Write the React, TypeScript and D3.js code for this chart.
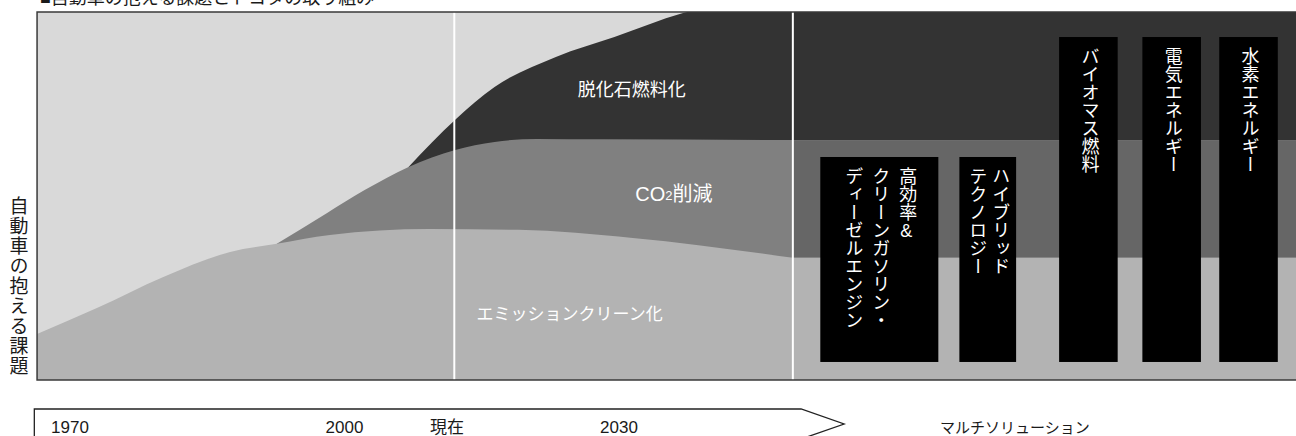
import React from "react";
import * as d3 from "d3";

// ---------- data ----------
const timelineLabels = ["1970", "2000", "現在", "2030"];
const timelineYears = [1970, 2000, 2011.2, 2030];

// boundary curves: [year, level(0-100)]
const emissionCurve: [number, number][] = [
  [1966.4, 12.5], [1973.0, 19.6], [1980.2, 28.0], [1987.5, 34.8], [1992.6, 37.0],
  [1998.4, 39.4], [2009.3, 41.0], [2019.0, 40.8], [2031.5, 38.6], [2049.0, 33.2],
];
const co2Curve: [number, number][] = [
  [1992.6, 37.0], [1998.1, 45.4], [2002.2, 51.6], [2007.0, 57.9], [2012.1, 62.5],
  [2016.4, 64.7], [2021.0, 65.5], [2027.9, 65.4], [2049.0, 65.2],
];
const fossilCurve: [number, number][] = [
  [2007.0, 57.9], [2012.1, 70.7], [2016.4, 79.6], [2023.1, 87.8], [2029.5, 93.2],
  [2037.0, 99.7], [2043.0, 103], [2049.0, 106],
];
// right panel (multi-solution) band levels
const solutionBandLevels = [100, 65.2, 33.2, 0];

const areaLabels = ["脱化石燃料化", "CO2削減", "エミッションクリーン化"];
const solutionLabels: string[][] = [
  ["高効率&", "クリーンガソリン・", "ディーゼルエンジン"],
  ["ハイブリッド", "テクノロジー"],
  ["バイオマス燃料"],
  ["電気エネルギー"],
  ["水素エネルギー"],
];

const axisTitle = "自動車の抱える課題";
const chartTitle = "■自動車の抱える課題とトヨタの取り組み";
const multiSolution = "マルチソリューション";

// ---------- layout ----------
const W = 1296;
const H = 436;
const PLOT_TOP = 12;
const PLOT_BOTTOM = 380;
const PLOT_LEFT_YEAR = 1966.4;
const NOW_YEAR = 2012;
const DIVIDER_YEAR = 2049.0;

// box layout in [startYear, endYear, topLevel]
const boxLayout: [number, number, number][] = [
  [2052.0, 2064.9, 60.6],
  [2067.2, 2073.4, 60.6],
  [2078.1, 2084.5, 93.2],
  [2087.2, 2093.6, 93.2],
  [2095.6, 2102.0, 93.2],
];
const BOX_BOTTOM_LEVEL = 4.9;

const COLORS = {
  bg: "#d9d9d9",
  dark: "#333333",
  mid: "#808080",
  midRight: "#666666",
  light: "#b3b3b3",
  box: "#000000",
  text: "#1a1a1a",
};

const FONT = "'Liberation Sans', Arial, 'Noto Sans CJK JP', sans-serif";

export default function App() {
  const x = d3.scaleLinear().domain([1970, 2030]).range([70, 619]);
  const y = d3.scaleLinear().domain([0, 100]).range([PLOT_BOTTOM, PLOT_TOP]);

  const area = d3
    .area<[number, number]>()
    .x((d) => x(d[0]))
    .y0(y(0))
    .y1((d) => y(d[1]))
    .curve(d3.curveMonotoneX);

  const plotLeft = x(PLOT_LEFT_YEAR);
  const divX = x(DIVIDER_YEAR);
  const nowX = x(NOW_YEAR);

  const colFills = [COLORS.dark, COLORS.midRight, COLORS.light];

  return (
    <svg
      width={W}
      height={H}
      style={{ position: "absolute", left: 0, top: 0, background: "#fff" }}
      fontFamily={FONT}
    >
      <defs>
        <clipPath id="plotClip">
          <rect x={plotLeft} y={PLOT_TOP} width={W - plotLeft + 20} height={PLOT_BOTTOM - PLOT_TOP} />
        </clipPath>
      </defs>

      {/* title (cut at top) */}
      <text x={40} y={4} fontSize={18} fill={COLORS.text}>
        {chartTitle}
      </text>

      <g clipPath="url(#plotClip)">
        <rect x={plotLeft} y={PLOT_TOP} width={W} height={PLOT_BOTTOM - PLOT_TOP} fill={COLORS.bg} />
        <path d={area(fossilCurve) || ""} fill={COLORS.dark} />
        <path d={area(co2Curve) || ""} fill={COLORS.mid} />
        <path d={area(emissionCurve) || ""} fill={COLORS.light} />

        {/* right panel bands */}
        {colFills.map((c, i) => (
          <rect
            key={i}
            x={divX}
            y={y(solutionBandLevels[i])}
            width={W - divX + 20}
            height={y(solutionBandLevels[i + 1]) - y(solutionBandLevels[i])}
            fill={c}
          />
        ))}

        <line x1={nowX} x2={nowX} y1={PLOT_TOP} y2={PLOT_BOTTOM} stroke="#fff" strokeWidth={2} />
        <line x1={divX} x2={divX} y1={PLOT_TOP} y2={PLOT_BOTTOM} stroke="#fff" strokeWidth={2} />

        {/* solution boxes */}
        {boxLayout.map((b, i) => {
          const x0 = x(b[0]);
          const x1 = x(b[1]);
          const top = y(b[2]);
          const cx = (x0 + x1) / 2;
          const cols = solutionLabels[i];
          const spacing = cols.length === 3 ? 27 : 23;
          return (
            <g key={i}>
              <rect x={x0} y={top} width={x1 - x0} height={y(BOX_BOTTOM_LEVEL) - top} fill={COLORS.box} />
              {cols.map((t, j) => (
                <text
                  key={j}
                  x={cx + ((cols.length - 1) / 2 - j) * spacing}
                  y={top + 10}
                  fontSize={18}
                  fill="#fff"
                  style={{ writingMode: "vertical-rl", textOrientation: "upright" } as any}
                >
                  {t}
                </text>
              ))}
            </g>
          );
        })}

        {/* area labels */}
        <text x={x(2031.4)} y={y(77.2)} fontSize={18} fill="#fff" textAnchor="middle">
          {areaLabels[0]}
        </text>
        <text x={x(2036.0)} y={y(48.6)} fontSize={20} fill="#fff" textAnchor="middle">
          CO<tspan fontSize={13} dy={-1}>2</tspan>
          <tspan dy={1}>削減</tspan>
        </text>
        <text x={x(2024.6)} y={y(16.3)} fontSize={17} fill="#fff" textAnchor="middle">
          {areaLabels[2]}
        </text>
      </g>

      {/* plot frame */}
      <rect
        x={plotLeft}
        y={PLOT_TOP}
        width={W - plotLeft + 20}
        height={PLOT_BOTTOM - PLOT_TOP}
        fill="none"
        stroke="#3a3a3a"
        strokeWidth={1.5}
      />

      {/* left vertical axis title */}
      <text
        x={17}
        y={196}
        fontSize={19}
        letterSpacing={1}
        fill={COLORS.text}
        style={{ writingMode: "vertical-rl" } as any}
      >
        {axisTitle}
      </text>

      {/* timeline arrow */}
      <path
        d={`M${x(1966.1)},${H + 10} L${x(1966.1)},409 L${x(2049.9)},409 L${x(2054.6)},424 L${x(2049.9)},439`}
        fill="none"
        stroke="#222"
        strokeWidth={1.3}
      />
      {timelineLabels.map((t, i) => (
        <text key={t} x={x(timelineYears[i])} y={433} fontSize={17} textAnchor="middle" fill={COLORS.text}>
          {t}
        </text>
      ))}
      <text x={940} y={433} fontSize={15} fill={COLORS.text}>
        {multiSolution}
      </text>
    </svg>
  );
}
